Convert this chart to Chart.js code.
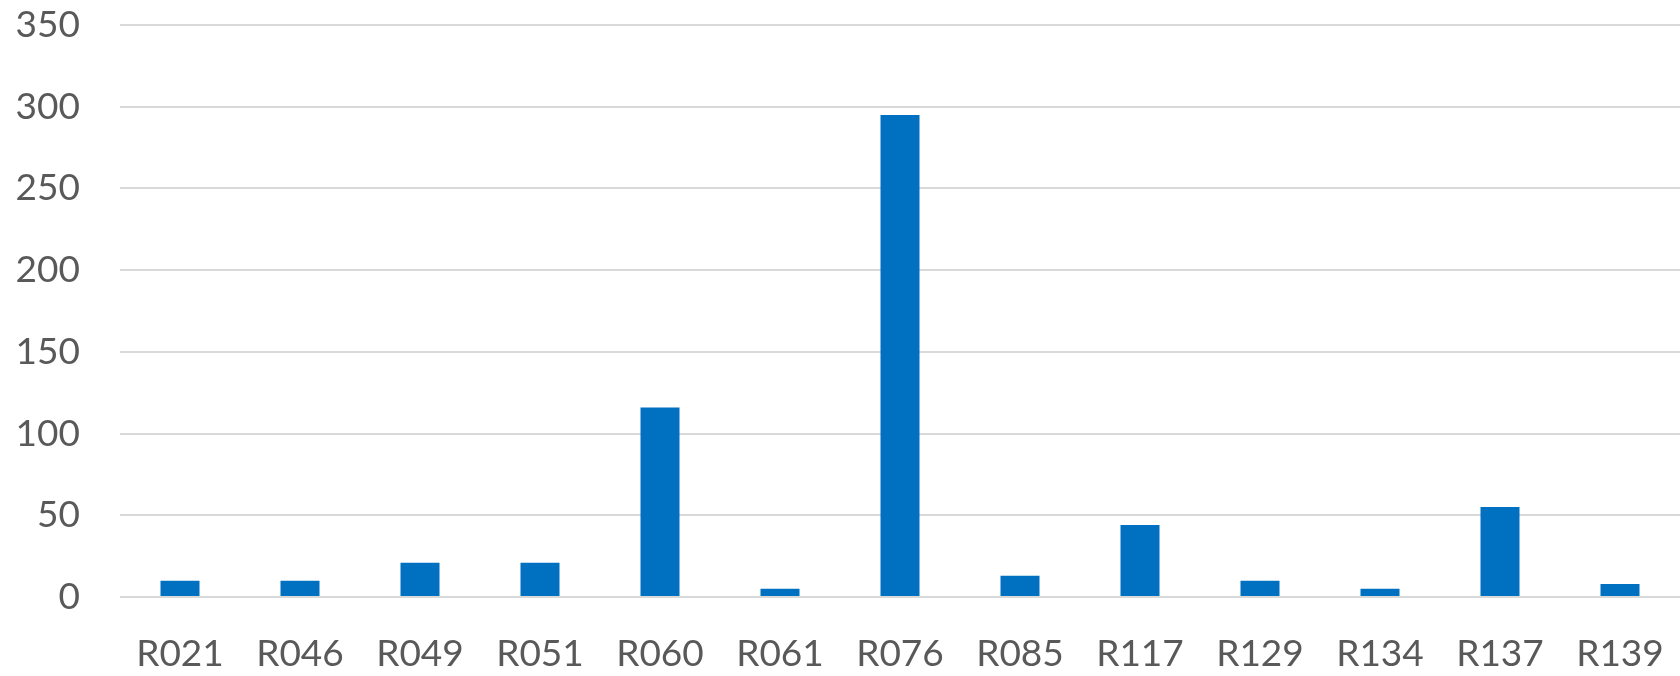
<!DOCTYPE html>
<html>
<head>
<meta charset="utf-8">
<script src="https://cdn.jsdelivr.net/npm/chart.js@4"></script>
<style>
html,body{margin:0;padding:0;background:#fff;}
#wrap{width:1680px;height:676px;}
</style>
</head>
<body>
<div id="wrap"><canvas id="c"></canvas></div>
<script>
const categories = ["R021","R046","R049","R051","R060","R061","R076","R085","R117","R129","R134","R137","R139"];
const values = [10,10,21,21,116,5,295,13,44,10,5,55,8];
const yTicks = [0,50,100,150,200,250,300,350];

new Chart(document.getElementById('c'), {
  type: 'bar',
  data: {
    labels: categories,
    datasets: [{
      data: values,
      backgroundColor: '#0070c0',
      borderWidth: 0,
      categoryPercentage: 1,
      barPercentage: 0.325
    }]
  },
  options: {
    responsive: true,
    maintainAspectRatio: false,
    animation: false,
    layout: { padding: { top: 25, right: 0, left: 0, bottom: 0 } },
    plugins: { legend: { display: false }, tooltip: { enabled: false } },
    scales: {
      x: {
        afterFit: (axis) => { axis.height = 79; axis.paddingLeft = 0; axis.paddingRight = 0; },
        grid: { display: false, drawTicks: false },
        border: { display: false },
        ticks: { color: '#595959', font: { family: 'Lato', size: 37 }, padding: 35, maxRotation: 0, autoSkip: false }
      },
      y: {
        min: 0, max: 350,
        afterBuildTicks: (axis) => { axis.ticks = yTicks.map(v => ({ value: v })); },
        afterFit: (axis) => { axis.width = 120; axis.paddingTop = 0; axis.paddingBottom = 0; },
        grid: { color: '#d9d9d9', lineWidth: 2, drawTicks: false },
        border: { display: false },
        ticks: { color: '#595959', font: { family: 'Lato', size: 37 }, padding: 40 }
      }
    }
  }
});
</script>
</body>
</html>
